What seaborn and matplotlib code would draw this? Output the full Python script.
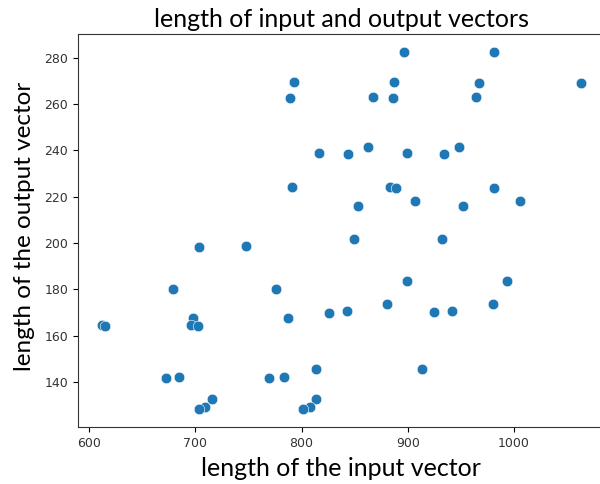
import numpy as np
import pandas as pd
import seaborn as sns
import matplotlib.pyplot as plt

# lengths
input_len = [703, 748, 679, 776, 612, 615, 698, 696, 702, 787, 826,
             672, 685, 769, 783, 814, 716, 709, 703, 814, 808, 801,
             793, 789, 816, 791,
             896, 981, 887, 967, 1063, 867, 886, 964, 844, 863, 899,
             934, 948, 883, 889, 981, 853, 907, 952, 1006,
             849, 932, 899, 993, 843, 880, 925, 942, 980, 913]
output_len = [198.4, 198.8, 180, 180, 164.5, 164, 167.7, 164.5, 163.9, 167.7, 169.9,
              141.6, 142, 141.6, 142, 145.6, 132.6, 128.9, 128.2, 132.6, 128.9, 128.2,
              269.6, 262.7, 238.9, 224.2,
              282.5, 282.5, 269.6, 269.2, 269.2, 263.2, 262.7, 263.2, 238.4, 241.3, 238.9,
              238.4, 241.3, 224.3, 223.7, 223.7, 216, 218.3, 216, 218.3,
              201.7, 201.7, 183.7, 183.7, 170.6, 173.6, 170.1, 170.6, 173.6, 145.6]

table = pd.DataFrame({'input': input_len, 'output': output_len})

fig = plt.figure(figsize=(6, 4.84), dpi=100)
ax = fig.add_axes([0.13, 0.118, 0.878, 0.811])
sns.scatterplot(data=table, x='input', y='output', ax=ax, s=58,
                color='#1f77b4', edgecolor='white', linewidth=0.4)

lab_font = ['Lato', 'DejaVu Sans']
ax.set_title('length of input and output vectors', fontsize=18, family=lab_font, pad=5)
ax.set_xlabel('length of the input vector', fontsize=18, family=lab_font, labelpad=5)
ax.set_ylabel('length of the output vector', fontsize=17.5, family=lab_font)
ax.yaxis.set_label_coords(-0.082, 0.51)
ax.tick_params(labelsize=9, labelcolor='#333333')
for sp in ax.spines.values():
    sp.set_color('#333333')

plt.savefig('out.png', dpi=100)
